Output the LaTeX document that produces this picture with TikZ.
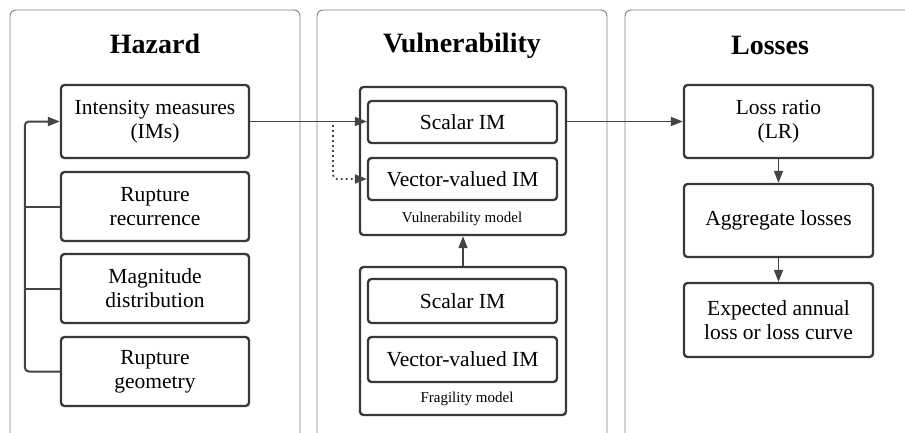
\documentclass[tikz,border=0pt]{standalone}
\usepackage{fontspec}
\setmainfont{Liberation Serif}
\usetikzlibrary{arrows.meta,calc}
\definecolor{boxline}{HTML}{383838}
\definecolor{panelline}{HTML}{808080}
\definecolor{conn}{HTML}{444444}
\tikzset{
  panel/.style={draw=panelline, line width=0.9pt, rounded corners=6pt},
  box/.style={draw=boxline, line width=2.3pt, rounded corners=3.5pt, align=center,
    font=\fontsize{21.5}{24}\selectfont, inner sep=0pt},
  title/.style={font=\fontsize{28}{32}\selectfont\bfseries},
  small/.style={font=\fontsize{15}{17}\selectfont},
  conn/.style={draw=conn, line width=1.5pt},
  arr/.style={conn, -{Triangle[length=12pt,width=9pt]}},
  dotarr/.style={conn, line width=1.8pt, dash pattern=on 1.8pt off 3.2pt, -{Triangle[length=12pt,width=9pt]}},
}
\begin{document}
\begin{tikzpicture}[x=1pt,y=-1pt]
\useasboundingbox (0,0) rectangle (905,432);
\clip (0,0) rectangle (905,432);
\fill[white] (0,0) rectangle (905,432);
% panels
\draw[panel] (10,10) rectangle (300,450);
\draw[panel] (317,10) rectangle (607,450);
\draw[panel] (625,10) rectangle (930,450);
% titles
\node[title] (th) at (155,44) {Hazard};
\node[title] (tv) at (462,46) {Vulnerability};
\node[title] (tl) at (770,45) {Losses};
% hazard boxes
\node[box, minimum width=188pt, minimum height=73pt] (ims) at (155,121.5) {Intensity measures\\(IMs)};
\node[box, minimum width=188pt, minimum height=69pt] (rr) at (155,206.5) {Rupture\\recurrence};
\node[box, minimum width=188pt, minimum height=69pt] (md) at (155,288.5) {Magnitude\\distribution};
\node[box, minimum width=188pt, minimum height=69pt] (rg) at (155,371.5) {Rupture\\geometry};
% vulnerability
\node[box, minimum width=206pt, minimum height=148pt] (vmod) at (463,161) {};
\node[box, minimum width=189pt, minimum height=42pt] (vs) at (462.5,122) {Scalar IM};
\node[box, minimum width=189pt, minimum height=42pt] (vv) at (462.5,179) {Vector-valued IM};
\node[small] (vlab) at (462,219) {Vulnerability model};
\node[box, minimum width=206pt, minimum height=148pt] (fmod) at (463,341) {};
\node[box, minimum width=189pt, minimum height=44pt] (fs) at (462.5,301) {Scalar IM};
\node[box, minimum width=189pt, minimum height=45pt] (fv) at (462.5,359.5) {Vector-valued IM};
\node[small] (flab) at (467,399) {Fragility model};
% losses
\node[box, minimum width=189pt, minimum height=73pt] (lr) at (778.5,121.5) {Loss ratio\\(LR)};
\node[box, minimum width=189pt, minimum height=73pt] (al) at (778.5,220.5) {Aggregate losses};
\node[box, minimum width=189pt, minimum height=74pt] (eal) at (778.5,320) {Expected annual\\loss or loss curve};
% connectors
\draw[arr, line width=2pt, rounded corners=4pt] (rg.west) -| ($(ims.west)+(-35,0)$) -- (ims.west);
\draw[conn, line width=2pt] (rr.west) -- ++(-35,0);
\draw[conn, line width=2pt] (md.west) -- ++(-35,0);
\draw[arr] (ims.east) -- (ims.east -| vs.west);
\coordinate (dj) at (333,125);
\draw[dotarr, rounded corners=4pt] (dj) |- (vv.west);
\draw[arr] (fmod.north) -- (vmod.south);
\draw[arr] (vmod.east |- lr.west) -- (lr.west);
\draw[arr] (lr.south) -- (al.north);
\draw[arr] (al.south) -- (eal.north);
\end{tikzpicture}
\end{document}
